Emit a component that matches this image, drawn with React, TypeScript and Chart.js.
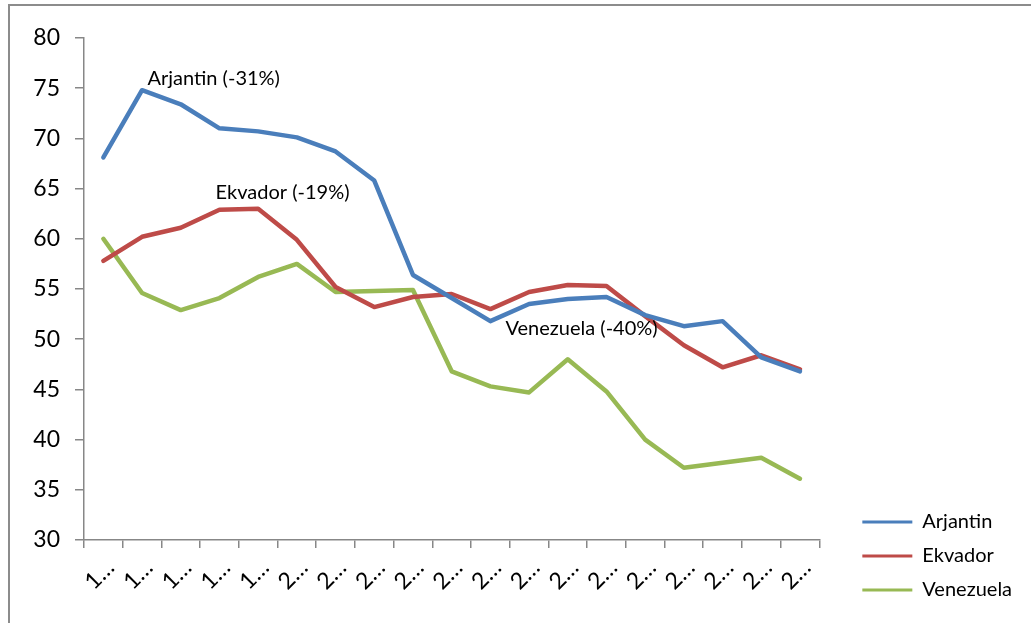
import React, { useEffect, useRef } from "react";
import { Chart, registerables } from "chart.js";

Chart.register(...registerables);

// Categories (years; the chart shows them truncated by the axis as "1…" / "2…")
const YEARS = [
  "1995", "1996", "1997", "1998", "1999", "2000", "2001", "2002", "2003", "2004",
  "2005", "2006", "2007", "2008", "2009", "2010", "2011", "2012", "2013",
];

const ARJANTIN = [68.1, 74.8, 73.4, 71.0, 70.7, 70.1, 68.7, 65.8, 56.4, 54.1, 51.8, 53.5, 54.0, 54.2, 52.4, 51.3, 51.8, 48.2, 46.8];
const EKVADOR = [57.8, 60.2, 61.1, 62.9, 63.0, 59.9, 55.2, 53.2, 54.2, 54.5, 53.0, 54.7, 55.4, 55.3, 52.3, 49.4, 47.2, 48.4, 47.0];
const VENEZUELA = [60.0, 54.6, 52.9, 54.1, 56.2, 57.5, 54.7, 54.8, 54.9, 46.8, 45.3, 44.7, 48.0, 44.8, 40.0, 37.2, 37.7, 38.2, 36.1];

const SERIES_NAMES = ["Arjantin", "Ekvador", "Venezuela"];
const SERIES_COLORS = ["#4A7EBB", "#BE4B48", "#98B954"];

const Y_MIN = 30;
const Y_MAX = 80;
const Y_STEP = 5;

// Free text labels anchored in data coordinates (category index, value)
const ANNOTATION_TEXTS = ["Arjantin (-31%)", "Ekvador (-19%)", "Venezuela (-40%)"];
const ANNOTATION_INDEX = [1.14, 2.9, 10.39];
const ANNOTATION_VALUE = [76.0, 64.65, 51.1];

const FONT = "Lato, 'Open Sans', sans-serif";
const AXIS_GRAY = "#878787";

const annotationPlugin = {
  id: "textAnnotations",
  afterDatasetsDraw(chart: any) {
    const { ctx, scales } = chart;
    const x = scales.x;
    const y = scales.y;
    ctx.save();
    ctx.font = `20px ${FONT}`;
    ctx.fillStyle = "#000";
    ctx.textAlign = "left";
    ctx.textBaseline = "middle";
    ANNOTATION_TEXTS.forEach((t, i) => {
      ctx.fillText(t, x.getPixelForValue(ANNOTATION_INDEX[i]), y.getPixelForValue(ANNOTATION_VALUE[i]));
    });
    ctx.restore();
  },
};

export default function App() {
  const canvasRef = useRef<HTMLCanvasElement | null>(null);

  useEffect(() => {
    const canvas = canvasRef.current;
    if (!canvas) return;
    const seriesData = [ARJANTIN, EKVADOR, VENEZUELA];
    const chart = new Chart(canvas, {
      type: "line",
      data: {
        labels: YEARS,
        datasets: seriesData.map((d, i) => ({
          label: SERIES_NAMES[i],
          data: d,
          borderColor: SERIES_COLORS[i],
          backgroundColor: SERIES_COLORS[i],
          borderWidth: 4.5,
          pointRadius: 0,
          pointHoverRadius: 0,
          tension: 0,
          fill: false,
          borderJoinStyle: "round" as const,
          borderCapStyle: "round" as const,
        })),
      },
      options: {
        animation: false,
        responsive: false,
        devicePixelRatio: 1,
        events: [],
        layout: { padding: { left: 0, top: 38, right: 13, bottom: 9 } },
        plugins: {
          tooltip: { enabled: false },
          legend: {
            position: "right",
            align: "end",
            labels: {
              boxWidth: 50,
              boxHeight: 3,
              padding: 14,
              color: "#000",
              font: { family: FONT, size: 20 },
              generateLabels: (ch: any) => {
                const items = Chart.defaults.plugins.legend.labels.generateLabels(ch);
                return items.map((it: any) => ({ ...it, lineWidth: 0, fillStyle: it.strokeStyle }));
              },
            },
          },
        },
        scales: {
          x: {
            type: "category",
            offset: true,
            grid: {
              offset: true,
              drawOnChartArea: false,
              drawTicks: true,
              tickLength: 8,
              color: AXIS_GRAY,
              lineWidth: 1.5,
            },
            border: { color: AXIS_GRAY, width: 1.5 },
            ticks: {
              autoSkip: false,
              minRotation: 45,
              maxRotation: 45,
              padding: 6,
              labelOffset: 7,
              color: "#000",
              font: { family: FONT, size: 23 },
              callback: function (this: any, value: any) {
                const l = String(this.getLabelForValue(value));
                return l.charAt(0) + "…";
              },
            },
            afterFit: (scale: any) => {
              scale.height = 74;
            },
          },
          y: {
            type: "linear",
            min: Y_MIN,
            max: Y_MAX,
            grid: {
              drawOnChartArea: false,
              drawTicks: true,
              tickLength: 9,
              color: AXIS_GRAY,
              lineWidth: 1.5,
            },
            border: { color: AXIS_GRAY, width: 1.5 },
            ticks: {
              stepSize: Y_STEP,
              padding: 15,
              color: "#000",
              font: { family: FONT, size: 23 },
            },
            afterFit: (scale: any) => {
              scale.width = 84;
            },
          },
          y2: {
            type: "linear",
            position: "right",
            display: true,
            grid: { display: false, drawTicks: false },
            border: { display: false },
            ticks: { display: false },
            afterFit: (scale: any) => {
              scale.width = 29;
            },
          },
        },
      },
      plugins: [annotationPlugin],
    } as any);
    return () => chart.destroy();
  }, []);

  return (
    <>
      <div
        style={{
          position: "fixed",
          left: 8,
          top: 4,
          width: 1100,
          height: 700,
          borderLeft: "2px solid #8c8c8c",
          borderTop: "2px solid #8c8c8c",
          boxSizing: "border-box",
          zIndex: 0,
        }}
      />
      <canvas
        ref={canvasRef}
        width={1031}
        height={623}
        style={{ position: "fixed", left: 0, top: 0, width: 1031, height: 623, zIndex: 1 }}
      />
    </>
  );
}
